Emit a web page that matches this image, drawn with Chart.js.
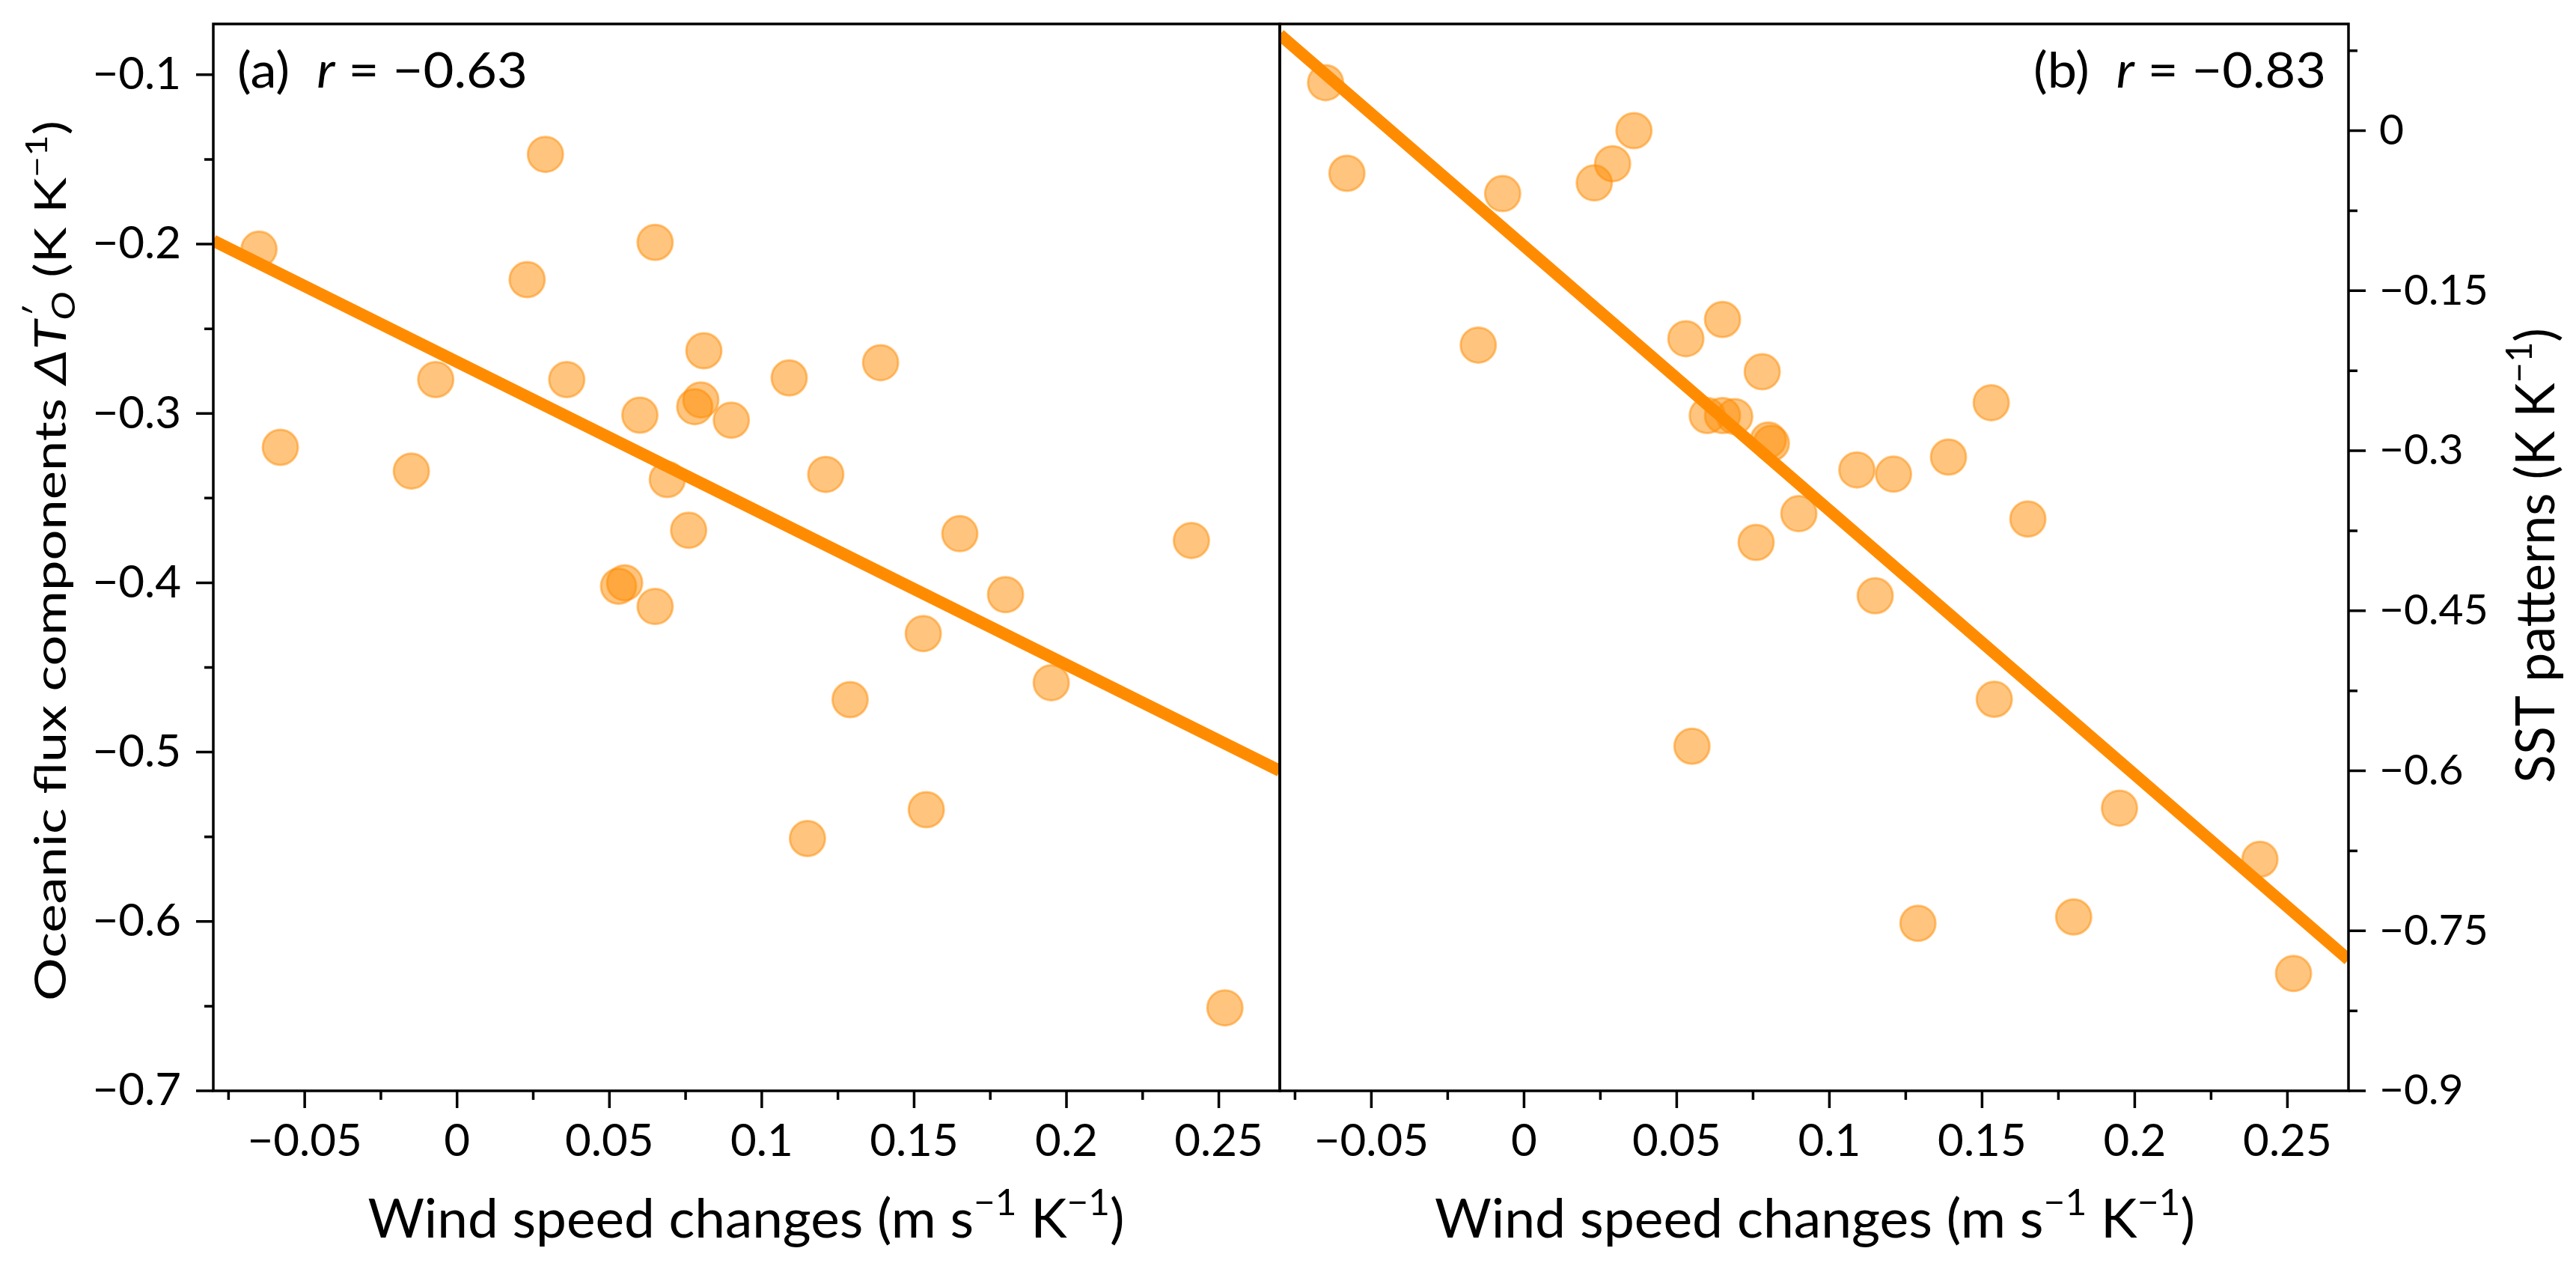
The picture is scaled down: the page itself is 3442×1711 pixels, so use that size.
<!DOCTYPE html>
<html>
<head>
<meta charset="utf-8">
<script src="https://cdn.jsdelivr.net/npm/chart.js@4.4.1/dist/chart.umd.min.js"></script>
<style>
  html, body { margin: 0; padding: 0; background: #fff; }
  #wrap { position: relative; width: 3442px; height: 1711px; background: #fff; overflow: hidden; }
  canvas { position: absolute; top: 0; }
  #chartA { left: 0; }
  #chartB { left: 1660px; }
</style>
</head>
<body>
<div id="wrap">
  <canvas id="chartA" width="1760" height="1711"></canvas>
  <canvas id="chartB" width="1782" height="1711"></canvas>
</div>
<script>
// wind speed change of each model, same x in both panels
var windSpeed = [-0.065, -0.058, -0.015, -0.007, 0.023, 0.029, 0.036, 0.053, 0.055, 0.060,
                 0.065, 0.065, 0.069, 0.076, 0.078, 0.080, 0.081, 0.090, 0.109, 0.115,
                 0.121, 0.129, 0.139, 0.153, 0.154, 0.165, 0.180, 0.195, 0.241, 0.252];
// (a) oceanic flux components
var fluxA = [-0.203, -0.320, -0.334, -0.280, -0.221, -0.147, -0.280, -0.402, -0.400, -0.301,
             -0.199, -0.414, -0.339, -0.369, -0.296, -0.292, -0.263, -0.304, -0.279, -0.551,
             -0.336, -0.469, -0.270, -0.430, -0.534, -0.371, -0.407, -0.459, -0.375, -0.651];
// (b) SST patterns
var sstB = [0.045, -0.040, -0.201, -0.059, -0.049, -0.031, 0.000, -0.195, -0.577, -0.267,
            -0.177, -0.267, -0.268, -0.386, -0.226, -0.290, -0.293, -0.359, -0.318, -0.436,
            -0.322, -0.743, -0.306, -0.255, -0.533, -0.364, -0.737, -0.635, -0.683, -0.790];

// regression lines, end points
var fitX = [-0.08, 0.27];
var fitA = [-0.198, -0.511];
var fitB = [0.090, -0.777];

var xTicks = [-0.05, 0, 0.05, 0.1, 0.15, 0.2, 0.25];
var xTickLabels = ['\u22120.05', '0', '0.05', '0.1', '0.15', '0.2', '0.25'];
var xMinor = [-0.075, -0.025, 0.025, 0.075, 0.125, 0.175, 0.225];
var yTicksA = [-0.7, -0.6, -0.5, -0.4, -0.3, -0.2, -0.1];
var yTickLabelsA = ['\u22120.7', '\u22120.6', '\u22120.5', '\u22120.4', '\u22120.3', '\u22120.2', '\u22120.1'];
var yMinorA = [-0.65, -0.55, -0.45, -0.35, -0.25, -0.15];
var yTicksB = [-0.9, -0.75, -0.6, -0.45, -0.3, -0.15, 0];
var yTickLabelsB = ['\u22120.9', '\u22120.75', '\u22120.6', '\u22120.45', '\u22120.3', '\u22120.15', '0'];
var yMinorB = [-0.825, -0.675, -0.525, -0.375, -0.225, -0.075, 0.075];

var LATO = 'Lato, "Open Sans", sans-serif';

function pts(xs, ys) {
  return xs.map(function (x, i) { return { x: x, y: ys[i] }; });
}

// draws a run of text pieces (for super/subscripts), optionally rotated,
// squeezed or stretched to the width it has in the figure
function drawRich(ctx, t) {
  var parts = t.parts;
  ctx.save();
  ctx.translate(t.x, t.y);
  ctx.rotate(t.rot || 0);
  ctx.fillStyle = '#000';
  ctx.textBaseline = 'alphabetic';
  ctx.textAlign = 'left';
  var w = 0;
  parts.forEach(function (p) {
    ctx.font = p.f;
    p.w = p.noAdv ? 0 : ctx.measureText(p.t).width;
    w += p.w;
  });
  var sx = t.w ? t.w / w : 1;
  var cx = t.align === 'center' ? -w / 2 : (t.align === 'right' ? -w : 0);
  ctx.scale(sx, 1);
  parts.forEach(function (p) {
    ctx.font = p.f;
    ctx.fillText(p.t, cx + (p.dx || 0), p.dy || 0);
    cx += p.w;
  });
  ctx.restore();
}

function px(size, style) { return (style ? style + ' ' : '') + size + 'px ' + LATO; }

function windLabel(S) {
  return [
    { t: 'Wind speed changes (m s', f: px(S) },
    { t: '\u22121', f: px(S * 0.68), dy: -S * 0.42 },
    { t: ' K', f: px(S) },
    { t: '\u22121', f: px(S * 0.68), dy: -S * 0.42 },
    { t: ')', f: px(S) }
  ];
}

function rLabel(tag, val, S) {
  return [
    { t: tag + '  ', f: px(S) },
    { t: 'r', f: px(S, 'italic') },
    { t: ' = ' + val, f: px(S) }
  ];
}

// frame, tick marks and texts
var frame = {
  id: 'frame',
  afterDraw: function (chart, args, o) {
    var ctx = chart.ctx, a = chart.chartArea;
    var xs = chart.scales.x, ys = chart.scales.y;
    ctx.save();
    ctx.strokeStyle = '#000';
    ctx.lineWidth = 3.5;
    ctx.strokeRect(a.left, a.top, a.right - a.left, a.bottom - a.top);
    ctx.beginPath();
    xTicks.forEach(function (v) {
      var p = xs.getPixelForValue(v);
      ctx.moveTo(p, a.bottom); ctx.lineTo(p, a.bottom + 23);
    });
    xMinor.forEach(function (v) {
      var p = xs.getPixelForValue(v);
      ctx.moveTo(p, a.bottom); ctx.lineTo(p, a.bottom + 12);
    });
    var edge = o.side === 'left' ? a.left : a.right;
    var dir = o.side === 'left' ? -1 : 1;
    o.yMajor.forEach(function (v) {
      var p = ys.getPixelForValue(v);
      ctx.moveTo(edge, p); ctx.lineTo(edge + dir * 23, p);
    });
    o.yMinor.forEach(function (v) {
      var p = ys.getPixelForValue(v);
      ctx.moveTo(edge, p); ctx.lineTo(edge + dir * 12, p);
    });
    ctx.stroke();
    ctx.restore();
    o.texts.forEach(function (t) { drawRich(ctx, t); });
  }
};

function makeChart(id, ys, fitY, opt) {
  var chart = new Chart(document.getElementById(id), {
    data: {
      datasets: [
        {
          type: 'line',
          data: pts(fitX, fitY),
          borderColor: '#ff8c00',
          borderWidth: 16,
          pointRadius: 0,
          fill: false,
          clip: 0,
          order: 0
        },
        {
          type: 'scatter',
          data: pts(windSpeed, ys),
          backgroundColor: 'rgba(255,140,0,0.5)',
          borderColor: 'rgba(255,140,0,0.5)',
          borderWidth: 3,
          pointRadius: 23.5,
          pointHoverRadius: 23.5,
          order: 1
        }
      ]
    },
    options: {
      responsive: false,
      animation: false,
      devicePixelRatio: 1,
      events: [],
      layout: { padding: opt.padding },
      plugins: {
        legend: { display: false },
        tooltip: { enabled: false },
        frame: opt.frame
      },
      scales: {
        x: {
          type: 'linear',
          min: -0.08, max: 0.27,
          grid: { display: false },
          border: { display: false },
          afterBuildTicks: function (s) { s.ticks = xTicks.map(function (v) { return { value: v }; }); },
          afterFit: function (s) { s.height = 254; s.paddingLeft = 0; s.paddingRight = 0; },
          ticks: {
            padding: 24, color: '#000', maxRotation: 0, autoSkip: false,
            font: { family: LATO, size: 60 },
            callback: function (v, i) { return xTickLabels[i]; }
          }
        },
        y: {
          type: 'linear',
          position: opt.ySide,
          min: opt.yMin, max: opt.yMax,
          grid: { display: false },
          border: { display: false },
          afterBuildTicks: function (s) { s.ticks = opt.yTicks.map(function (v) { return { value: v }; }); },
          afterFit: function (s) { s.width = opt.yWidth; s.paddingTop = 0; s.paddingBottom = 0; },
          ticks: {
            padding: opt.yPad, color: '#000', autoSkip: false,
            font: { family: LATO, size: opt.ySize },
            callback: function (v, i) { return opt.yLabels[i]; }
          }
        }
      }
    },
    plugins: [frame]
  });
  // nudge the layout padding until the plot area sits where it does in the figure
  var want = opt.area;
  for (var k = 0; k < 4; k++) {
    var a = chart.chartArea, p = chart.options.layout.padding;
    var dl = want.left - a.left, dr = a.right - want.right;
    var dt = want.top - a.top, db = a.bottom - want.bottom;
    if (Math.abs(dl) + Math.abs(dr) + Math.abs(dt) + Math.abs(db) < 1) break;
    p.left += dl; p.right += dr; p.top += dt; p.bottom += db;
    chart.update('none');
  }
  return chart;
}

function draw() {
  makeChart('chartA', fluxA, fitA, {
    padding: { left: 0, right: 50, top: 32, bottom: 0 },
    area: { left: 285, right: 1710, top: 32, bottom: 1457 },
    ySide: 'left', yMin: -0.7, yMax: -0.07, yWidth: 285, yPad: 35, ySize: 60,
    yTicks: yTicksA, yLabels: yTickLabelsA,
    frame: {
      side: 'left', yMajor: yTicksA, yMinor: yMinorA,
      texts: [
        { x: 997, y: 1653, align: 'center', w: 1011, parts: windLabel(71) },
        { x: 317, y: 117, align: 'left', w: 388, parts: rLabel('(a)', '\u22120.63', 66) },
        { x: 88, y: 749, align: 'center', w: 1176, rot: -Math.PI / 2, parts: [
          { t: 'Oceanic flux components ', f: px(59) },
          { t: '\u0394T', f: px(59, 'italic') },
          { t: '\u2032', f: px(42, 'italic'), dy: -24, dx: 2, noAdv: true },
          { t: 'O', f: px(42, 'italic'), dy: 12 },
          { t: ' (K K', f: px(59) },
          { t: '\u22121', f: px(40), dy: -25 },
          { t: ')', f: px(59) }
        ] }
      ]
    }
  });
  // panel b canvas starts at x = 1660 of the page
  makeChart('chartB', sstB, fitB, {
    padding: { left: 50, right: 0, top: 32, bottom: 0 },
    area: { left: 50, right: 1478, top: 32, bottom: 1457 },
    ySide: 'right', yMin: -0.9, yMax: 0.1, yWidth: 304, yPad: 33, ySize: 57,
    yTicks: yTicksB, yLabels: yTickLabelsB,
    frame: {
      side: 'right', yMajor: yTicksB, yMinor: yMinorB,
      texts: [
        { x: 765, y: 1653, align: 'center', w: 1016, parts: windLabel(71) },
        { x: 1448, y: 117, align: 'right', w: 391, parts: rLabel('(b)', '\u22120.83', 66) },
        { x: 1753, y: 742, align: 'center', w: 608, rot: -Math.PI / 2, parts: [
          { t: 'SST patterns (K K', f: px(71) },
          { t: '\u22121', f: px(48), dy: -30 },
          { t: ')', f: px(71) }
        ] }
      ]
    }
  });
}

if (document.fonts && document.fonts.load) {
  Promise.all([
    document.fonts.load('60px Lato'),
    document.fonts.load('italic 60px Lato')
  ]).then(draw, draw);
} else {
  draw();
}
</script>
</body>
</html>
